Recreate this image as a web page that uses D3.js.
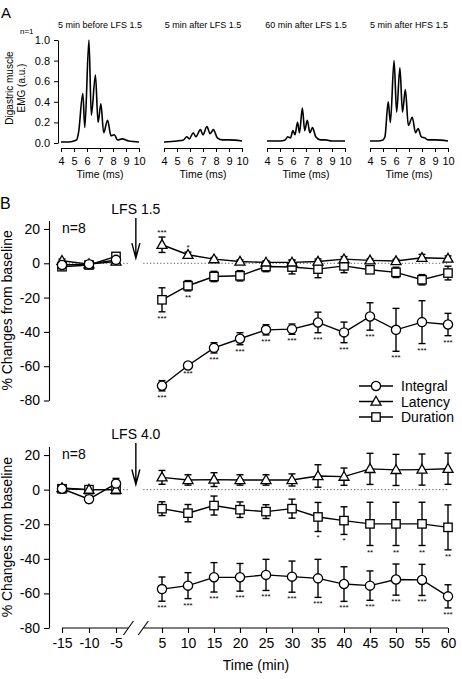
<!DOCTYPE html>
<html>
<head>
<meta charset="utf-8">
<script src="https://cdn.jsdelivr.net/npm/d3@7"></script>
<style>
  body { margin: 0; background: #fff; }
  svg { display: block; font-family: Arial, "Liberation Sans", Helvetica, sans-serif; }
</style>
</head>
<body>
<svg id="chart" width="462" height="679"></svg>
<script>
// ---- Panel A: EMG traces (time in ms, amplitude a.u.) ----
const traceTitles = ["5 min before LFS 1.5", "5 min after LFS 1.5", "60 min after LFS 1.5", "5 min after HFS 1.5"];
const traceBefore = [[4,0.01],[4.6,0.01],[5.0,0.02],[5.2,0.03],[5.35,0.1],[5.68,0.48],[5.83,0.15],[6.15,1.0],[6.33,0.27],[6.65,0.66],[6.85,0.2],[7.07,0.38],[7.28,0.1],[7.58,0.22],[7.85,0.07],[8.1,0.08],[8.35,0.03],[8.7,0.04],[9.2,0.02],[10,0.01]];
const traceAfter5 = [[4,0.01],[5,0.02],[5.5,0.03],[5.75,0.06],[5.95,0.04],[6.25,0.1],[6.45,0.06],[6.8,0.13],[7.0,0.08],[7.3,0.16],[7.55,0.09],[7.8,0.13],[8.1,0.05],[8.5,0.03],[9,0.03],[10,0.02]];
const traceAfter60 = [[4,0.02],[5,0.02],[5.4,0.03],[5.6,0.06],[5.8,0.05],[6.0,0.12],[6.15,0.08],[6.35,0.2],[6.5,0.1],[6.72,0.34],[6.9,0.12],[7.1,0.22],[7.3,0.1],[7.5,0.15],[7.75,0.06],[8.1,0.03],[8.5,0.03],[9,0.02],[10,0.02]];
const traceHFS = [[4,0.02],[4.6,0.02],[5.0,0.03],[5.15,0.06],[5.4,0.4],[5.57,0.2],[5.85,0.8],[6.05,0.3],[6.3,0.73],[6.5,0.3],[6.72,0.52],[6.95,0.17],[7.25,0.25],[7.5,0.1],[7.7,0.14],[7.95,0.06],[8.2,0.05],[8.5,0.03],[9,0.03],[10,0.02]];
const traces = [traceBefore, traceAfter5, traceAfter60, traceHFS];
const emgTicks = [0, 0.2, 0.4, 0.6, 0.8, 1.0];
const msTicks = [4, 5, 6, 7, 8, 9, 10];

// ---- Panel B: % change from baseline ----
const timesPre = [-15, -10, -5];
const timesPost = [5, 10, 15, 20, 25, 30, 35, 40, 45, 50, 55, 60];
const pctTicks = [-80, -60, -40, -20, 0, 20];

// LFS 1.5
const integralPre1 = [-1, -0.5, 2];      const integralPreErr1 = [1.5, 1, 1.5];
const latencyPre1  = [1.5, -0.5, 1];     const latencyPreErr1  = [1, 1, 1];
const durationPre1 = [-2, -1, 4];        const durationPreErr1 = [2, 1, 2];
const integralPost1 = [-71.4, -59.6, -49.3, -44, -38.8, -38.4, -34.5, -40.3, -31, -38.8, -34.3, -35.7];
const integralErr1  = [3, 1, 3, 3.5, 3, 3, 6, 6, 8, 12.5, 12.5, 6.5];
const latencyPost1  = [10.8, 5, 2.4, 1, 0.5, 0.5, 1, 2.4, 1.7, 1.3, 3.2, 2.8];
const latencyErr1   = [4.5, 1.5, 1, 1, 1, 1.5, 1.5, 1.5, 1, 1, 2, 1.5];
const durationPost1 = [-21.3, -13.1, -7.7, -7.3, -1.9, -2.2, -3.4, -1.5, -3.8, -5.3, -9.6, -5.7];
const durationErr1  = [7, 3, 3, 3, 3, 4, 5, 4, 2, 3, 3, 4];
const integralStars1 = ["***","***","***","***","***","***","***","***","***","***","***","***"];
const latencyStars1  = ["***","*","","","","","","","","","",""];
const durationStars1 = ["***","**","","","","","","","","","",""];

// LFS 4.0
const integralPre2 = [0.5, -5.5, 3.5];   const integralPreErr2 = [1, 2, 3];
const latencyPre2  = [1, 0, 0];          const latencyPreErr2  = [1, 1, 1];
const durationPre2 = [0.5, 0, 0];        const durationPreErr2 = [1, 1, 1];
const integralPost2 = [-57.5, -55.5, -50.7, -50.7, -49.3, -50.3, -51.3, -54.6, -55.5, -52, -52.2, -61.7];
const integralErr2  = [7, 7.5, 8.5, 8, 9, 9, 11, 10, 8.5, 9, 9, 6.7];
const latencyPost2  = [7.1, 5.6, 5.8, 5.6, 5.6, 5.6, 7.9, 7.5, 12, 11.4, 11.6, 12.1];
const latencyErr2   = [4, 3, 4, 3, 3, 3.5, 6.5, 5, 9, 9, 9, 9];
const durationPost2 = [-11, -13.6, -9.2, -11.6, -12.7, -11, -15.8, -17.9, -19.8, -19.8, -19.8, -21.8];
const durationErr2  = [4, 5, 5.5, 4.5, 4, 5.5, 8.4, 8, 12.5, 12.5, 12.5, 13];
const integralStars2 = ["***","***","***","***","***","***","***","***","***","***","***","***"];
const latencyStars2  = ["","","","","","","","","","","",""];
const durationStars2 = ["","","","","","","*","*","**","**","**","**"];

const legendNames = ["Integral", "Latency", "Duration"];

const svg = d3.select("#chart");
const plain = d => String(d); // hyphen minus, as in the figure

// ================= Panel A =================
svg.append("text").attr("x", 1).attr("y", 18).attr("font-size", 15).text("A");
svg.append("text").attr("x", 20).attr("y", 34).attr("font-size", 8).text("n=1");

const yEmg = d3.scaleLinear().domain([0, 1]).range([143, 40]);
const subLeft = [61, 164, 267, 370];
const subWidth = 78;

traces.forEach((tr, i) => {
    const xs = d3.scaleLinear().domain([4, 10]).range([subLeft[i], subLeft[i] + subWidth]);
    const g = svg.append("g");

    g.append("text")
        .attr("x", subLeft[i] + subWidth / 2).attr("y", 28)
        .attr("text-anchor", "middle").attr("font-size", 9)
        .text(traceTitles[i]);

    g.append("path")
        .datum(tr)
        .attr("fill", "none").attr("stroke", "#000").attr("stroke-width", 1.6)
        .attr("d", d3.line().x(d => xs(d[0])).y(d => yEmg(d[1])).curve(d3.curveMonotoneX));

    const xa = g.append("g")
        .attr("transform", "translate(0,148)")
        .call(d3.axisBottom(xs).tickValues(msTicks).tickFormat(plain).tickSize(4).tickSizeOuter(0).tickPadding(5));
    xa.selectAll("text").attr("font-size", 11).attr("font-family", null).attr("fill", "#000");
    xa.selectAll("line,path").attr("stroke", "#000");

    g.append("text")
        .attr("x", subLeft[i] + subWidth / 2).attr("y", 178)
        .attr("text-anchor", "middle").attr("font-size", 10.5)
        .text("Time (ms)");
});

const ya = svg.append("g")
    .attr("transform", "translate(58,0)")
    .call(d3.axisLeft(yEmg).tickValues(emgTicks).tickFormat(d3.format(".1f")).tickSize(4).tickSizeOuter(0).tickPadding(4));
ya.selectAll("text").attr("font-size", 11).attr("font-family", null).attr("fill", "#000");
ya.selectAll("line,path").attr("stroke", "#000");

svg.append("text")
    .attr("transform", "translate(13,88) rotate(-90)")
    .attr("text-anchor", "middle").attr("font-size", 10)
    .text("Digastric muscle");
svg.append("text")
    .attr("transform", "translate(25,88) rotate(-90)")
    .attr("text-anchor", "middle").attr("font-size", 10)
    .text("EMG (a.u.)");

// ================= Panel B =================
svg.append("text").attr("x", 0).attr("y", 209).attr("font-size", 16).text("B");

const xPre = d3.scaleLinear().domain([-15, -5]).range([62, 116]);
const xPost = d3.scaleLinear().domain([5, 60]).range([162, 448]);
const breakL = xPre(-2.7);
const breakR = xPost(1.4);
const arrowX = (breakL + breakR) / 2;

function marker(sel, shape) {
    if (shape === "circle") {
        sel.append("circle").attr("r", 4.6);
    } else if (shape === "square") {
        sel.append("rect").attr("x", -4.2).attr("y", -4.2).attr("width", 8.4).attr("height", 8.4);
    } else {
        sel.append("path").attr("d", "M0,-5.2L5,3.6L-5,3.6Z");
    }
    sel.selectAll("circle,rect,path").attr("fill", "#fff").attr("stroke", "#000").attr("stroke-width", 1.3);
}

function drawPlot(top, y, stimLabel, series, showXAxis) {
    const g = svg.append("g");

    // y axis
    const ay = g.append("g")
        .attr("transform", "translate(49,0)")
        .call(d3.axisLeft(y).tickValues(pctTicks).tickFormat(plain).tickSize(5).tickSizeOuter(0).tickPadding(4));
    ay.selectAll("text").attr("font-size", 14).attr("font-family", null).attr("fill", "#000");
    ay.selectAll("line,path").attr("stroke", "#000").attr("stroke-width", 1.1);

    // dotted zero line
    g.append("line").attr("x1", xPre(-15)).attr("x2", breakL).attr("y1", y(0)).attr("y2", y(0))
        .attr("stroke", "#555").attr("stroke-dasharray", "1.2,2.2");
    g.append("line").attr("x1", breakR).attr("x2", xPost(60)).attr("y1", y(0)).attr("y2", y(0))
        .attr("stroke", "#555").attr("stroke-dasharray", "1.2,2.2");

    // n label and stimulus arrow
    g.append("text").attr("x", 62).attr("y", y(20) + 4).attr("font-size", 14).text("n=8");
    g.append("text").attr("x", arrowX).attr("y", top).attr("text-anchor", "middle")
        .attr("font-size", 14).text(stimLabel);
    const a0 = top + 4, a1 = y(3);
    g.append("path")
        .attr("d", `M${arrowX},${a0}L${arrowX},${a1}M${arrowX - 4},${a1 - 15}L${arrowX},${a1}L${arrowX + 4},${a1 - 15}`)
        .attr("fill", "none").attr("stroke", "#000").attr("stroke-width", 1.4);

    const line = d3.line().x(d => d.x).y(d => y(d.v));

    series.forEach(s => {
        const pre = timesPre.map((t, i) => ({ x: xPre(t), v: s.pre[i], e: s.preErr[i], star: "" }));
        const post = timesPost.map((t, i) => ({ x: xPost(t), v: s.post[i], e: s.err[i], star: s.stars[i] }));
        [pre, post].forEach(pts => {
            g.append("path").datum(pts).attr("d", line)
                .attr("fill", "none").attr("stroke", "#000").attr("stroke-width", 1.4);
            const eb = g.selectAll(null).data(pts).enter().append("g");
            eb.append("line").attr("x1", d => d.x).attr("x2", d => d.x)
                .attr("y1", d => y(d.v + d.e)).attr("y2", d => y(d.v - d.e));
            eb.append("line").attr("x1", d => d.x - 3.5).attr("x2", d => d.x + 3.5)
                .attr("y1", d => y(d.v + d.e)).attr("y2", d => y(d.v + d.e));
            eb.append("line").attr("x1", d => d.x - 3.5).attr("x2", d => d.x + 3.5)
                .attr("y1", d => y(d.v - d.e)).attr("y2", d => y(d.v - d.e));
            eb.selectAll("line").attr("stroke", "#000").attr("stroke-width", 1.4);
        });
        s._pts = pre.concat(post);
    });

    // markers on top of lines
    series.forEach(s => {
        s._pts.forEach(d => {
            const m = g.append("g").attr("transform", `translate(${d.x},${y(d.v)})`);
            marker(m, s.shape);
            if (d.star) {
                g.append("text")
                    .attr("x", d.x)
                    .attr("y", s.starsAbove ? y(d.v + d.e) - 2 : y(d.v - d.e) + 9)
                    .attr("text-anchor", "middle").attr("font-size", 8)
                    .text(d.star);
            }
        });
    });

    // y label
    g.append("text")
        .attr("transform", `translate(12,${(y(25) + y(-80)) / 2}) rotate(-90)`)
        .attr("text-anchor", "middle").attr("font-size", 14)
        .text("% Changes from baseline");

    if (showXAxis) {
        const base = y(-80);
        const axPre = g.append("g").attr("transform", `translate(0,${base})`)
            .call(d3.axisBottom(xPre).tickValues(timesPre).tickFormat(plain).tickSize(5).tickSizeOuter(0).tickPadding(5));
        const axPost = g.append("g").attr("transform", `translate(0,${base})`)
            .call(d3.axisBottom(xPost).tickValues(timesPost).tickFormat(plain).tickSize(5).tickSizeOuter(0).tickPadding(5));
        [axPre, axPost].forEach(ax => {
            ax.select(".domain").remove();
            ax.selectAll("text").attr("font-size", 14).attr("font-family", null).attr("fill", "#000");
            ax.selectAll("line").attr("stroke", "#000").attr("stroke-width", 1.1);
        });
        g.append("line").attr("x1", xPre(-15)).attr("x2", breakL).attr("y1", base).attr("y2", base)
            .attr("stroke", "#000").attr("stroke-width", 1.1);
        g.append("line").attr("x1", breakR).attr("x2", xPost(60)).attr("y1", base).attr("y2", base)
            .attr("stroke", "#000").attr("stroke-width", 1.1);
        [breakL, breakR].forEach(bx => {
            g.append("line").attr("x1", bx - 5).attr("x2", bx + 5).attr("y1", base + 7).attr("y2", base - 7)
                .attr("stroke", "#000").attr("stroke-width", 1.1);
        });
        g.append("text").attr("x", 256).attr("y", base + 42).attr("text-anchor", "middle")
            .attr("font-size", 14).text("Time (min)");
    }
}

const yTop = d3.scaleLinear().domain([-80, 25]).range([400.5, 220.4]);
const yBot = d3.scaleLinear().domain([-80, 25]).range([628, 446.4]);

drawPlot(214, yTop, "LFS 1.5", [
    { shape: "square", pre: durationPre1, preErr: durationPreErr1, post: durationPost1, err: durationErr1, stars: durationStars1 },
    { shape: "triangle", pre: latencyPre1, preErr: latencyPreErr1, post: latencyPost1, err: latencyErr1, stars: latencyStars1, starsAbove: true },
    { shape: "circle", pre: integralPre1, preErr: integralPreErr1, post: integralPost1, err: integralErr1, stars: integralStars1 }
], false);

drawPlot(439, yBot, "LFS 4.0", [
    { shape: "square", pre: durationPre2, preErr: durationPreErr2, post: durationPost2, err: durationErr2, stars: durationStars2 },
    { shape: "triangle", pre: latencyPre2, preErr: latencyPreErr2, post: latencyPost2, err: latencyErr2, stars: latencyStars2 },
    { shape: "circle", pre: integralPre2, preErr: integralPreErr2, post: integralPost2, err: integralErr2, stars: integralStars2 }
], true);

// legend
const legendShapes = ["circle", "triangle", "square"];
legendNames.forEach((name, i) => {
    const ly = 386 + i * 15.5;
    svg.append("line").attr("x1", 359).attr("x2", 393).attr("y1", ly).attr("y2", ly)
        .attr("stroke", "#000").attr("stroke-width", 1.4);
    const m = svg.append("g").attr("transform", `translate(376,${ly})`);
    marker(m, legendShapes[i]);
    svg.append("text").attr("x", 401).attr("y", ly + 5).attr("font-size", 14).text(name);
});
</script>
</body>
</html>
